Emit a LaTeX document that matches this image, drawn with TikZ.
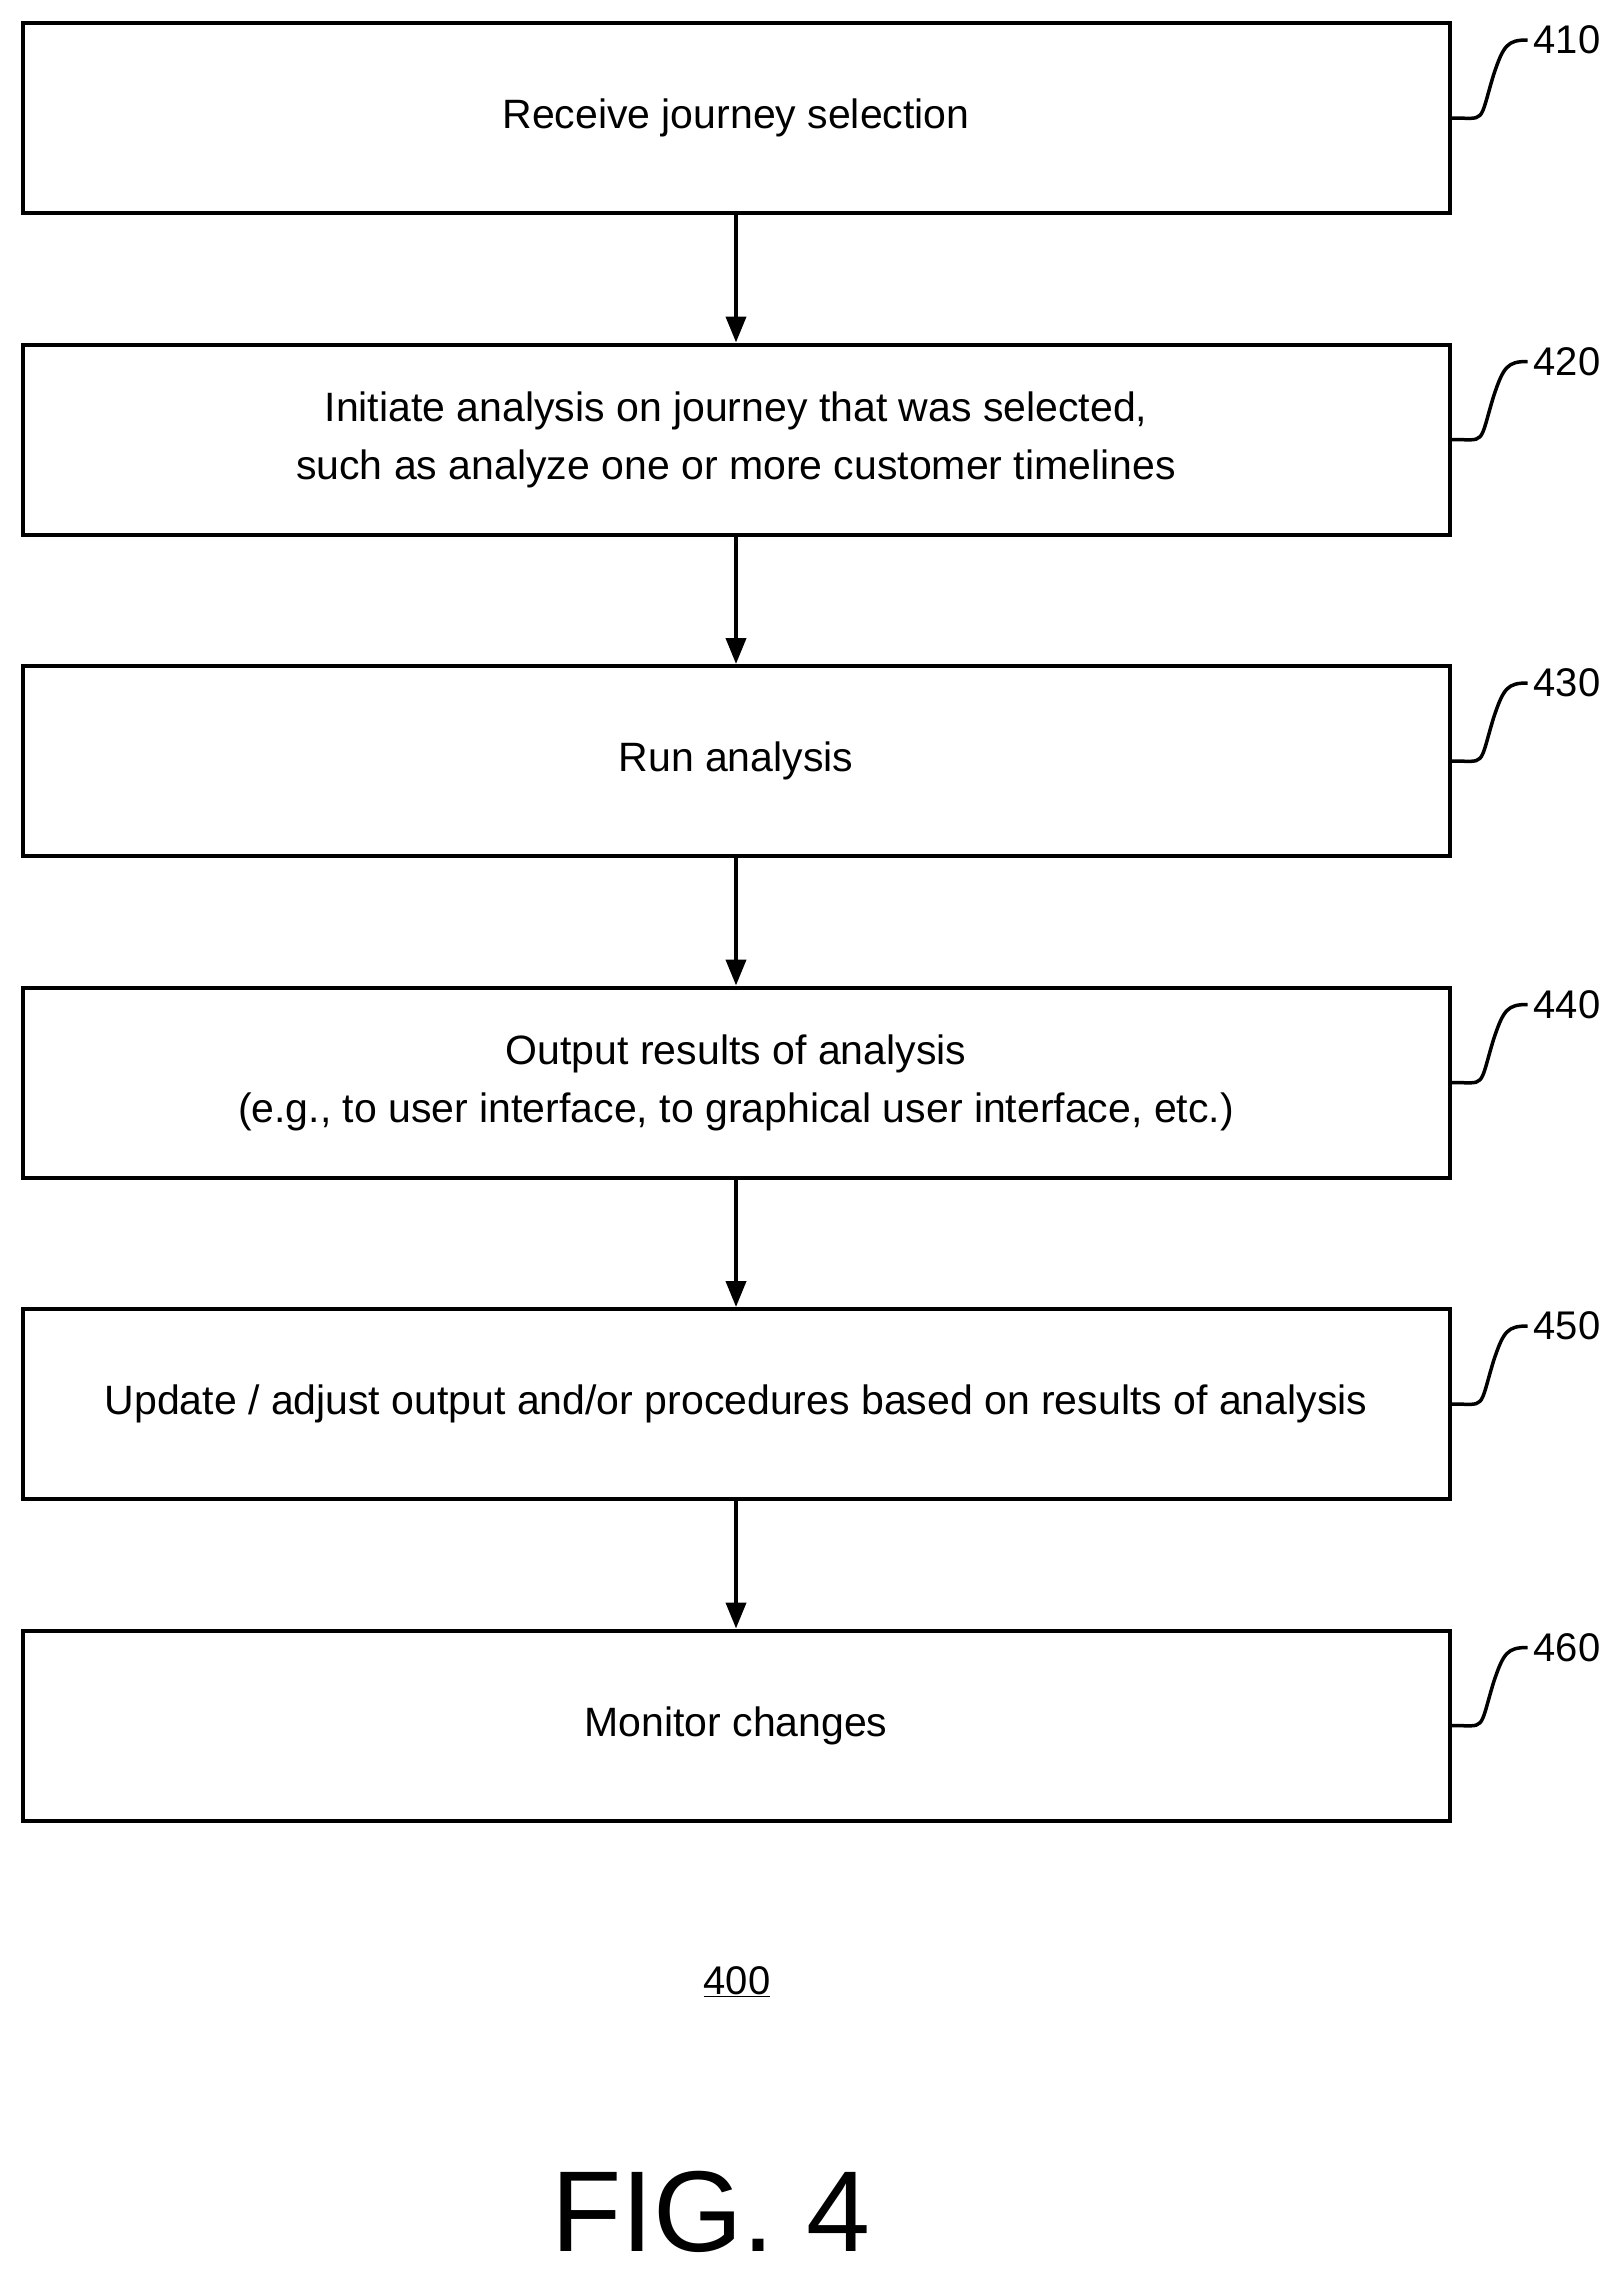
\documentclass[tikz,border=0pt]{standalone}
\usepackage{fontspec}
\setmainfont{Liberation Sans}
\usetikzlibrary{positioning,arrows.meta}
\begin{document}
\begin{tikzpicture}[
  x=1pt, y=-1pt,
  box/.style={draw, line width=4pt, minimum width=1427pt, minimum height=190pt, inner sep=0pt, align=center, font=\fontsize{41}{58}\selectfont},
  flow/.style={line width=4pt, -{Triangle[length=26pt,width=20pt]}},
  tag/.style={font=\fontsize{40}{48}\selectfont, inner sep=0pt, anchor=west},
  lead/.style={line width=3.5pt}
]
\useasboundingbox (0,0) rectangle (1618,2274);

% --- steps ---
\node[box] (s410) at (736,118) {Receive journey selection};
\node[box, below=127.5pt of s410] (s420) {Initiate analysis on journey that was selected,\\such as analyze one or more customer timelines};
\node[box, below=127.5pt of s420] (s430) {Run analysis};
\node[box, below=127.5pt of s430] (s440) {Output results of analysis\\(e.g., to user interface, to graphical user interface, etc.)};
\node[box, below=127.5pt of s440] (s450) {Update / adjust output and/or procedures based on results of analysis};
\node[box, below=127.5pt of s450] (s460) {Monitor changes};

% --- arrows ---
\draw[flow] (s410) -- (s420);
\draw[flow] (s420) -- (s430);
\draw[flow] (s430) -- (s440);
\draw[flow] (s440) -- (s450);
\draw[flow] (s450) -- (s460);

% --- reference labels ---
\foreach \n in {410,420,430,440,450,460} {
  \node[tag] (t\n) at ([xshift=82pt,yshift=-19pt]s\n.north east) {\n};
  \draw[lead] (s\n.east) .. controls +(35,0) and +(-15,50) .. ([xshift=-40pt,yshift=-35pt]t\n.west)
    .. controls +(10,-30) and +(-20,0) .. ([xshift=-6pt]t\n.west);
}

% --- figure labels ---
\node[font=\fontsize{40}{48}\selectfont] (n400) at (737,1982) {\underline{400}};
\node[font=\fontsize{115}{125}\selectfont] (fig) at (711,2212) {FIG. 4};
\end{tikzpicture}
\end{document}
